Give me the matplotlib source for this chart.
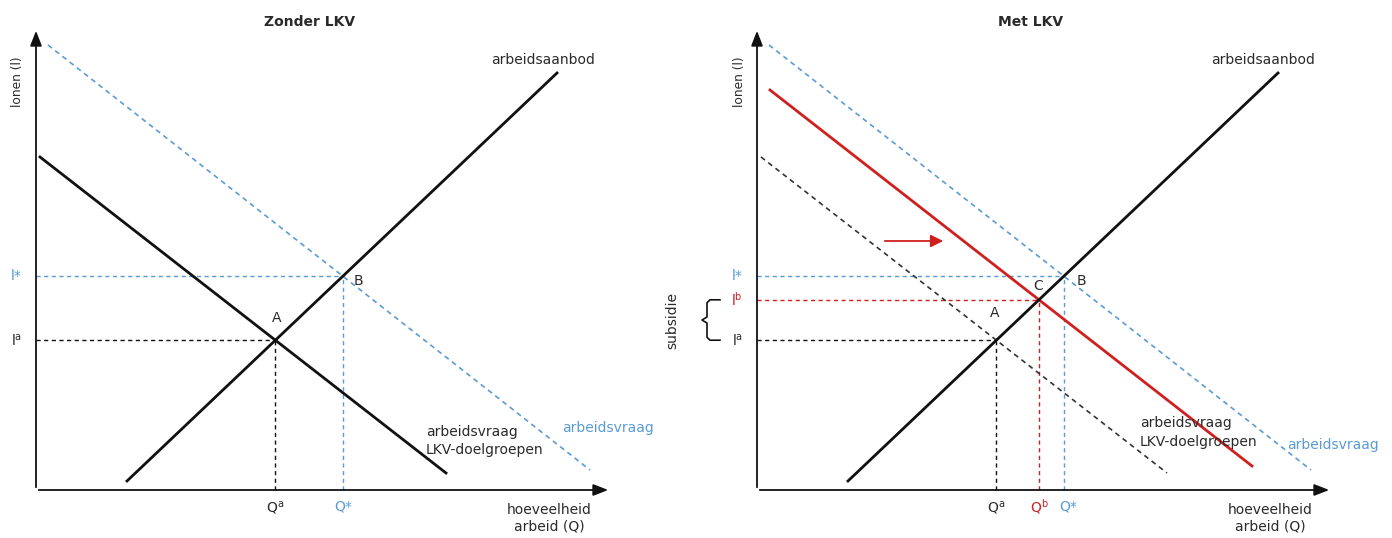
import numpy as np
import matplotlib.pyplot as plt
from matplotlib.patches import FancyArrowPatch

plt.rcParams['font.family'] = ['DejaVu Sans']
plt.rcParams['mathtext.fontset'] = 'dejavusans'

# lijnen (begin- en eindpunt, schematisch)
aanbod = [(91, 9), (521, 417)]
vraag_lkv = [(4, 333), (410, 17)]
vraag_totaal = [(12, 445), (554, 20)]
vraag_lkv_subsidie = [(13, 400), (495, 24)]

titels = ["Zonder LKV", "Met LKV"]

BLAUW = '#5B9BD5'
ROOD = '#D0201E'
ZWART = '#111111'
TEKST = '#2a2a2a'
FS = 10


def snijpunt(l1, l2):
    (x1, y1), (x2, y2) = l1
    (x3, y3), (x4, y4) = l2
    a1 = (y2 - y1) / (x2 - x1)
    a2 = (y4 - y3) / (x4 - x3)
    x = (y3 - y1 + a1 * x1 - a2 * x3) / (a1 - a2)
    return x, y1 + a1 * (x - x1)


def lijn(ax, l, **kw):
    ax.plot([l[0][0], l[1][0]], [l[0][1], l[1][1]], **kw)


def hulplijnen(ax, p, kleur):
    ax.plot([0, p[0]], [p[1], p[1]], ls=(0, (3, 2.5)), lw=1, color=kleur)
    ax.plot([p[0], p[0]], [0, p[1]], ls=(0, (3, 2.5)), lw=1, color=kleur)


def assen(ax):
    ax.annotate('', xy=(575, 0), xytext=(0, 0),
                arrowprops=dict(arrowstyle='-|>,head_length=0.9,head_width=0.35', lw=1.3, color=ZWART))
    ax.annotate('', xy=(0, 462), xytext=(0, 0),
                arrowprops=dict(arrowstyle='-|>,head_length=0.9,head_width=0.35', lw=1.3, color=ZWART))
    ax.text(-18, 408, 'lonen (l)', rotation=90, ha='center', va='center', fontsize=8.8, color=TEKST)
    ax.text(513, -20, 'hoeveelheid', ha='center', va='center', fontsize=FS, color=TEKST)
    ax.text(513, -37, 'arbeid (Q)', ha='center', va='center', fontsize=FS, color=TEKST)


fig = plt.figure(figsize=(13.92, 5.38), dpi=100)
ax1 = fig.add_axes([0, 0, 0.5, 1])
ax2 = fig.add_axes([0.5, 0, 0.5, 1])
ax1.set_xlim(-36, 660)
ax2.set_xlim(-61, 635)
for ax, titel in zip([ax1, ax2], titels):
    ax.set_ylim(-48, 490)
    ax.axis('off')
    assen(ax)
    ax.text(274, 468, titel, ha='center', va='center', fontsize=FS, fontweight='bold', color=TEKST)

# links: zonder LKV
A = snijpunt(aanbod, vraag_lkv)
B = snijpunt(aanbod, vraag_totaal)
hulplijnen(ax1, B, BLAUW)
hulplijnen(ax1, A, ZWART)
lijn(ax1, vraag_totaal, color=BLAUW, lw=1.2, ls=(0, (3, 2.5)))
lijn(ax1, aanbod, color=ZWART, lw=2)
lijn(ax1, vraag_lkv, color=ZWART, lw=2)
ax1.text(A[0] + 1, A[1] + 22, 'A', ha='center', va='center', fontsize=FS, color=TEKST)
ax1.text(B[0] + 16, B[1] - 5, 'B', ha='center', va='center', fontsize=FS, color=TEKST)
ax1.text(-14, B[1], 'l*', ha='right', va='center', fontsize=FS, color=BLAUW)
ax1.text(-14, A[1], r'l$^{\mathrm{a}}$', ha='right', va='center', fontsize=FS, color=TEKST)
ax1.text(A[0], -17, r'Q$^{\mathrm{a}}$', ha='center', va='center', fontsize=FS, color=TEKST)
ax1.text(B[0], -17, 'Q*', ha='center', va='center', fontsize=FS, color=BLAUW)
ax1.text(507, 430, 'arbeidsaanbod', ha='center', va='center', fontsize=FS, color=TEKST)
ax1.text(390, 58, 'arbeidsvraag', ha='left', va='center', fontsize=FS, color=TEKST)
ax1.text(390, 40, 'LKV-doelgroepen', ha='left', va='center', fontsize=FS, color=TEKST)
ax1.text(526, 62, 'arbeidsvraag', ha='left', va='center', fontsize=FS, color=BLAUW)

# rechts: met LKV
A2 = snijpunt(aanbod, vraag_lkv)
B2 = snijpunt(aanbod, vraag_totaal)
C2 = snijpunt(aanbod, vraag_lkv_subsidie)
hulplijnen(ax2, B2, BLAUW)
hulplijnen(ax2, C2, ROOD)
hulplijnen(ax2, A2, ZWART)
lijn(ax2, vraag_totaal, color=BLAUW, lw=1.2, ls=(0, (3, 2.5)))
lijn(ax2, vraag_lkv, color='#333333', lw=1.2, ls=(0, (3, 2.5)))
lijn(ax2, vraag_lkv_subsidie, color=ROOD, lw=2)
lijn(ax2, aanbod, color=ZWART, lw=2)
ax2.add_patch(FancyArrowPatch((125, 249), (189, 249), arrowstyle='-|>,head_length=5,head_width=2.5',
                              color=ROOD, lw=1.3, mutation_scale=1.5))
ax2.text(A2[0] - 2, A2[1] + 27, 'A', ha='center', va='center', fontsize=FS, color=TEKST)
ax2.text(B2[0] + 18, B2[1] - 5, 'B', ha='center', va='center', fontsize=FS, color=TEKST)
ax2.text(C2[0] - 1, C2[1] + 14, 'C', ha='center', va='center', fontsize=FS, color=TEKST)
ax2.text(-14, B2[1], 'l*', ha='right', va='center', fontsize=FS, color=BLAUW)
ax2.text(-14, C2[1], r'l$^{\mathrm{b}}$', ha='right', va='center', fontsize=FS, color=ROOD)
ax2.text(-14, A2[1], r'l$^{\mathrm{a}}$', ha='right', va='center', fontsize=FS, color=TEKST)
ax2.text(A2[0], -17, r'Q$^{\mathrm{a}}$', ha='center', va='center', fontsize=FS, color=TEKST)
ax2.text(C2[0], -17, r'Q$^{\mathrm{b}}$', ha='center', va='center', fontsize=FS, color=ROOD)
ax2.text(B2[0] + 4, -17, 'Q*', ha='center', va='center', fontsize=FS, color=BLAUW)
ax2.text(506, 430, 'arbeidsaanbod', ha='center', va='center', fontsize=FS, color=TEKST)
ax2.text(383, 67, 'arbeidsvraag', ha='left', va='center', fontsize=FS, color=TEKST)
ax2.text(383, 48, 'LKV-doelgroepen', ha='left', va='center', fontsize=FS, color=TEKST)
ax2.text(530, 45, 'arbeidsvraag', ha='left', va='center', fontsize=FS, color=BLAUW)

# accolade subsidie
ym = (A2[1] + C2[1]) / 2
ax2.plot([-37, -47, -50, -50, -55, -50, -50, -47, -37],
         [C2[1], C2[1], C2[1] - 3, ym + 3, ym, ym - 3, A2[1] + 3, A2[1], A2[1]],
         color=ZWART, lw=1.2, solid_joinstyle='round')
ax2.text(-85, ym, 'subsidie', rotation=90, ha='center', va='center', fontsize=FS, color=TEKST)

fig.savefig('out.png', dpi=100)
